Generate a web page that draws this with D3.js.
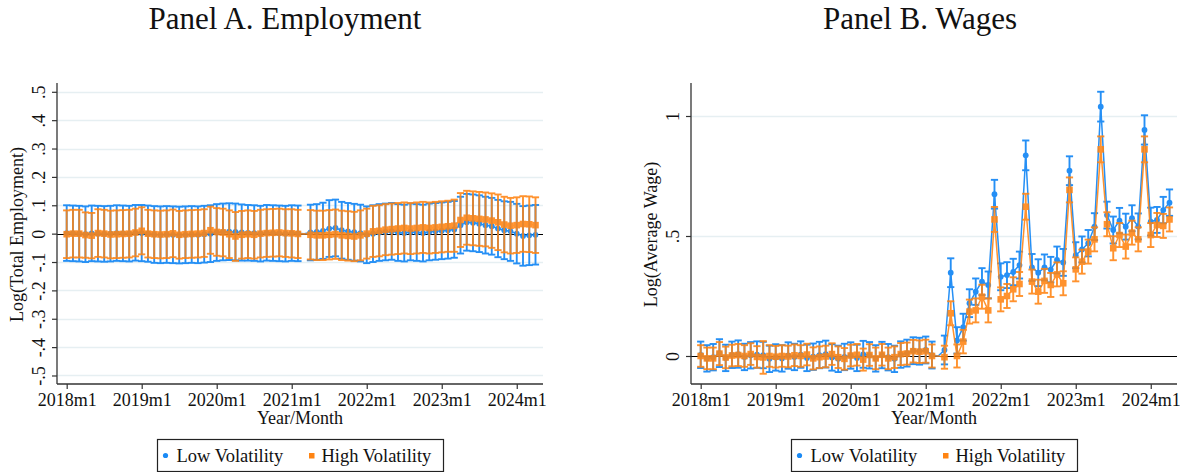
<!DOCTYPE html>
<html>
<head>
<meta charset="utf-8">
<script src="https://cdn.jsdelivr.net/npm/d3@7"></script>
<style>
  body { margin: 0; background: #fff; }
  text { font-family: "Liberation Serif", "Times New Roman", serif; fill: #111; }
</style>
</head>
<body>
<svg id="chart" width="1180" height="472"></svg>
<script>
// ---- Categories -------------------------------------------------------
const startYear = 2018;
const nMonths = 76; // 2018m1 .. 2024m4
const months = d3.range(nMonths).map(i => `${startYear + Math.floor(i / 12)}m${(i % 12) + 1}`);
const refMonth = "2021m3"; // omitted reference period (no interval drawn)
const xTickLabels = ["2018m1", "2019m1", "2020m1", "2021m1", "2022m1", "2023m1", "2024m1"];
const seriesNames = ["Low Volatility", "High Volatility"];

// ---- Panel A: Log(Total Employment) -------------------------------------
const empTicks = [-0.5, -0.4, -0.3, -0.2, -0.1, 0, 0.1, 0.2, 0.3, 0.4, 0.5];
const empTickLabels = ["-.5", "-.4", "-.3", "-.2", "-.1", "0", ".1", ".2", ".3", ".4", ".5"];

const empLowEst = [
  0.002, 0.001, 0.000, -0.002, 0.001, 0.000, -0.001, 0.000, 0.002, 0.001, 0.000, 0.003,
  0.002, 0.000, -0.003, -0.004, -0.003, -0.004, -0.005, -0.004, -0.003, -0.004, -0.002, 0.000,
  0.004, 0.006, 0.007, 0.006, 0.004, 0.003, 0.002, 0.000, 0.003, 0.002, 0.001, 0.000,
  0.002, 0.001, 0,
  0.004, 0.006, 0.010, 0.018, 0.020, 0.012, 0.008, 0.005, 0.002, -0.004,
  0.000, 0.004, 0.006, 0.008, 0.004, 0.002, 0.006, 0.004, 0.002, 0.006, 0.008, 0.010, 0.012, 0.015,
  0.030, 0.040, 0.038, 0.035, 0.030, 0.026, 0.018, 0.012, 0.008, 0.000, -0.008, -0.006, -0.004
];
const empLowHalf = [
  0.098, 0.098, 0.098, 0.098, 0.098, 0.098, 0.098, 0.098, 0.098, 0.098, 0.098, 0.098,
  0.099, 0.099, 0.100, 0.100, 0.100, 0.100, 0.100, 0.100, 0.100, 0.100, 0.100, 0.100,
  0.100, 0.100, 0.100, 0.100, 0.099, 0.098, 0.098, 0.098, 0.098, 0.098, 0.098, 0.098,
  0.098, 0.098, null,
  0.098, 0.098, 0.099, 0.100, 0.100, 0.100, 0.100, 0.100, 0.100, 0.100,
  0.100, 0.100, 0.100, 0.100, 0.100, 0.100, 0.100, 0.100, 0.100, 0.100, 0.100, 0.100, 0.100, 0.100,
  0.100, 0.100, 0.100, 0.100, 0.100, 0.100, 0.101, 0.102, 0.104, 0.105, 0.105, 0.105, 0.105
];
const empHighEst = [
  -0.002, 0.000, 0.000, -0.005, -0.007, 0.002, 0.000, -0.003, -0.002, -0.001, 0.000, 0.004,
  0.010, 0.000, -0.002, -0.003, -0.002, 0.001, -0.004, -0.002, -0.001, 0.000, 0.002, 0.012,
  0.006, 0.004, -0.002, -0.010, -0.004, -0.002, -0.004, 0.000, 0.002, 0.003, 0.004, 0.002,
  0.001, -0.001, 0,
  -0.004, -0.006, -0.006, -0.004, -0.002, -0.006, -0.008, -0.010, -0.006, 0.000,
  0.008, 0.010, 0.014, 0.016, 0.018, 0.020, 0.018, 0.020, 0.022, 0.020, 0.022, 0.024, 0.026, 0.028,
  0.048, 0.056, 0.054, 0.052, 0.050, 0.046, 0.040, 0.032, 0.028, 0.030, 0.034, 0.033, 0.030
];
const empHighHalf = [
  0.084, 0.084, 0.084, 0.080, 0.080, 0.084, 0.084, 0.084, 0.084, 0.084, 0.084, 0.084,
  0.083, 0.084, 0.084, 0.084, 0.084, 0.084, 0.084, 0.084, 0.084, 0.084, 0.084, 0.083,
  0.084, 0.084, 0.084, 0.086, 0.084, 0.084, 0.084, 0.084, 0.084, 0.084, 0.084, 0.084,
  0.085, 0.085, null,
  0.087, 0.087, 0.087, 0.087, 0.087, 0.087, 0.087, 0.087, 0.088, 0.088,
  0.090, 0.090, 0.090, 0.090, 0.090, 0.090, 0.090, 0.090, 0.090, 0.090, 0.090, 0.090, 0.090, 0.092,
  0.095, 0.095, 0.095, 0.095, 0.095, 0.096, 0.098, 0.098, 0.098, 0.098, 0.098, 0.098, 0.098
];

// ---- Panel B: Log(Average Wage) -----------------------------------------
const wageTicks = [0, 0.5, 1];
const wageTickLabels = ["0", ".5", "1"];

const wageLowEst = [
  0.005, -0.010, -0.005, 0.012, -0.008, 0.005, 0.008, -0.004, 0.003, 0.006, 0.004, -0.012,
  -0.006, -0.010, 0.002, -0.004, 0.006, -0.008, -0.003, 0.004, 0.008, -0.006, -0.012, -0.004,
  0.002, -0.008, 0.007, 0.003, -0.010, 0.004, -0.005, -0.012, 0.006, 0.012, 0.022, 0.020,
  0.025, 0.004, 0,
  0.025, 0.347, 0.065, 0.120, 0.220, 0.268, 0.310, 0.296, 0.674, 0.330,
  0.337, 0.350, 0.379, 0.836, 0.369, 0.347, 0.369, 0.360, 0.400, 0.390, 0.772, 0.420,
  0.444, 0.470, 0.539, 1.039, 0.587, 0.525, 0.564, 0.539, 0.574, 0.540, 0.942, 0.560,
  0.567, 0.608, 0.639
];
const wageLowHalf = [
  0.055, 0.055, 0.055, 0.058, 0.055, 0.055, 0.057, 0.055, 0.055, 0.055, 0.055, 0.055,
  0.055, 0.055, 0.055, 0.055, 0.055, 0.055, 0.055, 0.055, 0.056, 0.055, 0.055, 0.055,
  0.055, 0.055, 0.056, 0.055, 0.055, 0.055, 0.055, 0.055, 0.055, 0.056, 0.056, 0.056,
  0.056, 0.056, null,
  0.060, 0.060, 0.055, 0.056, 0.058, 0.055, 0.056, 0.056, 0.060, 0.056,
  0.054, 0.055, 0.056, 0.062, 0.056, 0.056, 0.054, 0.053, 0.056, 0.056, 0.060, 0.054,
  0.054, 0.055, 0.056, 0.062, 0.056, 0.056, 0.053, 0.054, 0.054, 0.054, 0.061, 0.058,
  0.054, 0.055, 0.055
];
const wageHighEst = [
  0.000, -0.010, -0.010, 0.010, -0.006, 0.002, 0.004, 0.000, 0.008, -0.004, -0.006, 0.000,
  -0.003, 0.000, -0.002, 0.003, 0.000, 0.006, -0.010, -0.005, -0.002, 0.008, -0.005, -0.012,
  0.002, 0.005, -0.015, 0.004, -0.010, 0.005, -0.010, -0.005, 0.008, 0.010, 0.020, 0.018,
  0.020, 0.000, 0,
  -0.005, 0.178, 0.000, 0.060, 0.185, 0.190, 0.247, 0.190, 0.569, 0.236,
  0.250, 0.278, 0.300, 0.622, 0.310, 0.268, 0.313, 0.296, 0.340, 0.303, 0.692, 0.361,
  0.393, 0.435, 0.486, 0.861, 0.549, 0.449, 0.504, 0.456, 0.514, 0.486, 0.861, 0.504,
  0.546, 0.542, 0.569
];
const wageHighHalf = [
  0.045, 0.045, 0.045, 0.048, 0.045, 0.045, 0.046, 0.045, 0.045, 0.045, 0.068, 0.045,
  0.045, 0.045, 0.045, 0.045, 0.045, 0.045, 0.046, 0.045, 0.045, 0.045, 0.045, 0.045,
  0.045, 0.045, 0.046, 0.045, 0.045, 0.045, 0.045, 0.045, 0.046, 0.046, 0.047, 0.047,
  0.048, 0.048, null,
  0.048, 0.050, 0.048, 0.049, 0.050, 0.050, 0.050, 0.050, 0.052, 0.050,
  0.050, 0.050, 0.050, 0.054, 0.050, 0.050, 0.050, 0.050, 0.050, 0.050, 0.052, 0.050,
  0.050, 0.050, 0.050, 0.054, 0.050, 0.050, 0.050, 0.050, 0.050, 0.050, 0.054, 0.050,
  0.050, 0.050, 0.050
];

// ---- Styling ----------------------------------------------------------
const colors = ["#1a8af5", "#ff8412"];
const gridColor = "#e6eff2";

const svg = d3.select("#chart");

function buildSeries(est, half) {
  return est.map((v, i) => ({
    i, month: months[i], est: v,
    lo: half[i] == null ? null : v - half[i],
    hi: half[i] == null ? null : v + half[i]
  }));
}

function drawPanel(opt) {
  const { left, right, top, bottom, title, titleX, yDomain, ticks, tickLabels, yTitle, series } = opt;
  const g = svg.append("g");

  const x = d3.scaleLinear().domain([-1.55, nMonths + 0.2]).range([left, right]);
  const y = d3.scaleLinear().domain(yDomain).range([bottom, top]);
  const snap = v => Math.round(v) + 0.5;

  // title
  g.append("text").attr("x", titleX).attr("y", 29)
    .attr("text-anchor", "middle").style("font-size", "31px").text(title);

  // gridlines
  g.append("g").selectAll("line").data(ticks.filter(t => t !== 0)).join("line")
    .attr("x1", left).attr("x2", right)
    .attr("y1", d => snap(y(d))).attr("y2", d => snap(y(d)))
    .attr("stroke", gridColor).attr("stroke-width", 1.3);

  // zero line
  g.append("line").attr("x1", left).attr("x2", right)
    .attr("y1", snap(y(0))).attr("y2", snap(y(0)))
    .attr("stroke", "#000").attr("stroke-width", 1.2).attr("shape-rendering", "crispEdges");

  // y axis
  const yAxis = g.append("g").attr("transform", `translate(${left},0)`)
    .call(d3.axisLeft(y).tickValues(ticks).tickFormat((d, k) => tickLabels[k]).tickSize(5).tickSizeOuter(0));
  yAxis.select(".domain").attr("d", `M0,${top}V${bottom}`).attr("stroke", "#333").attr("stroke-width", 1.3);
  yAxis.selectAll(".tick line").attr("stroke", "#333").attr("stroke-width", 1.2);
  yAxis.selectAll(".tick text")
    .attr("x", null).attr("dy", null)
    .attr("text-anchor", "middle")
    .attr("transform", "translate(-12,0) rotate(-90)")
    .style("font-size", "18px").style("font-family", "Liberation Serif, serif").attr("fill", "#111");

  // x axis
  const xTickIdx = xTickLabels.map(l => months.indexOf(l));
  const xAxis = g.append("g").attr("transform", `translate(0,${bottom})`)
    .call(d3.axisBottom(x).tickValues(xTickIdx).tickFormat(i => months[i]).tickSize(5).tickSizeOuter(0));
  xAxis.select(".domain").attr("d", `M${left},0H${right}`).attr("stroke", "#333").attr("stroke-width", 1.3);
  xAxis.selectAll(".tick line").attr("stroke", "#333").attr("stroke-width", 1.2);
  xAxis.selectAll(".tick text").attr("y", 9)
    .style("font-size", "18px").style("font-family", "Liberation Serif, serif").attr("fill", "#111");

  // axis titles
  g.append("text").attr("x", (left + right) / 2).attr("y", 424)
    .attr("text-anchor", "middle").style("font-size", "18px").text("Year/Month");
  g.append("text")
    .attr("transform", `translate(${left - 34},${(top + bottom) / 2 + 1}) rotate(-90)`)
    .attr("text-anchor", "middle").style("font-size", "18px").text(yTitle);

  // series
  const cap = 3.6;
  series.forEach((s, k) => {
    const data = buildSeries(s.est, s.half);
    const color = colors[k];
    const withCI = data.filter(d => d.lo != null);
    const sg = g.append("g").attr("opacity", k === 1 ? 0.88 : 0.95);

    // interval bars with caps
    sg.selectAll("line.bar").data(withCI).join("line").attr("class", "bar")
      .attr("x1", d => x(d.i)).attr("x2", d => x(d.i))
      .attr("y1", d => y(d.lo)).attr("y2", d => y(d.hi))
      .attr("stroke", color).attr("stroke-width", 1.9);
    sg.selectAll("line.capHi").data(withCI).join("line").attr("class", "capHi")
      .attr("x1", d => x(d.i) - cap).attr("x2", d => x(d.i) + cap)
      .attr("y1", d => y(d.hi)).attr("y2", d => y(d.hi))
      .attr("stroke", color).attr("stroke-width", 1.9);
    sg.selectAll("line.capLo").data(withCI).join("line").attr("class", "capLo")
      .attr("x1", d => x(d.i) - cap).attr("x2", d => x(d.i) + cap)
      .attr("y1", d => y(d.lo)).attr("y2", d => y(d.lo))
      .attr("stroke", color).attr("stroke-width", 1.9);

    // connecting line through the estimates
    sg.append("path").datum(data)
      .attr("d", d3.line().x(d => x(d.i)).y(d => y(d.est)))
      .attr("fill", "none").attr("stroke", color).attr("stroke-width", 1.5);

    // markers
    if (k === 0) {
      sg.selectAll("circle").data(withCI).join("circle")
        .attr("cx", d => x(d.i)).attr("cy", d => y(d.est)).attr("r", 2.9).attr("fill", color);
    } else {
      sg.selectAll("rect.mk").data(withCI).join("rect").attr("class", "mk")
        .attr("x", d => x(d.i) - 3.3).attr("y", d => y(d.est) - 3.3)
        .attr("width", 6.6).attr("height", 6.6).attr("fill", color);
    }
  });

  // legend
  const lw = 286, lh = 32;
  const lx = (left + right) / 2 - lw / 2 + 0.5, ly = 439.5;
  const lg = g.append("g");
  lg.append("rect").attr("x", lx).attr("y", ly).attr("width", lw).attr("height", lh)
    .attr("fill", "#fff").attr("stroke", "#222").attr("stroke-width", 1.2);
  lg.append("circle").attr("cx", lx + 8).attr("cy", ly + 16).attr("r", 2.6).attr("fill", colors[0]);
  lg.append("text").attr("x", lx + 19).attr("y", ly + 22.5).style("font-size", "18.5px").text(seriesNames[0]);
  lg.append("rect").attr("x", lx + 151.5).attr("y", ly + 13.5).attr("width", 5.5).attr("height", 5.5).attr("fill", colors[1]);
  lg.append("text").attr("x", lx + 164).attr("y", ly + 22.5).style("font-size", "18.5px").text(seriesNames[1]);
}

drawPanel({
  left: 57, right: 543, top: 83, bottom: 384,
  title: "Panel A. Employment", titleX: 285,
  yDomain: [-0.53, 0.531], ticks: empTicks, tickLabels: empTickLabels,
  yTitle: "Log(Total Employment)",
  series: [{ est: empLowEst, half: empLowHalf }, { est: empHighEst, half: empHighHalf }]
});

drawPanel({
  left: 691, right: 1177, top: 83, bottom: 384,
  title: "Panel B. Wages", titleX: 920,
  yDomain: [-0.1167, 1.1375], ticks: wageTicks, tickLabels: wageTickLabels,
  yTitle: "Log(Average Wage)",
  series: [{ est: wageLowEst, half: wageLowHalf }, { est: wageHighEst, half: wageHighHalf }]
});
</script>
</body>
</html>
